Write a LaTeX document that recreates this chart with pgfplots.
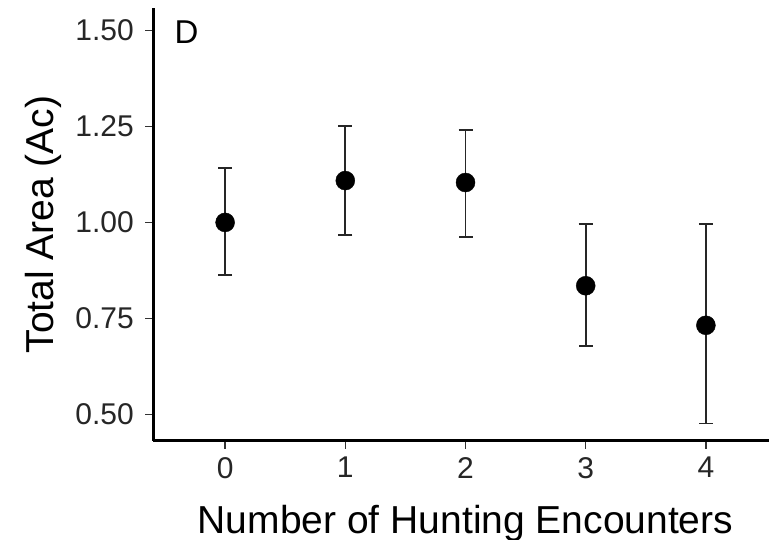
\documentclass[border=0pt]{standalone}
\usepackage{fontspec}
\setmainfont{Liberation Sans}
\usepackage{pgfplots}
\usepackage{pgfplotstable}
\pgfplotsset{compat=1.18}

% mean total area and 95% interval per number of hunting encounters
\pgfplotstableread{
x  y      lo     hi
0  1.000  0.864  1.142
1  1.109  0.967  1.252
2  1.104  0.962  1.240
3  0.835  0.678  0.995
4  0.732  0.476  0.995
}\areadata

\begin{document}
\begin{tikzpicture}[x=1bp,y=1bp]
\useasboundingbox (0,0) rectangle (769,540);
\begin{axis}[
  at={(153bp,99bp)}, anchor=south west,
  scale only axis, width=625bp, height=433bp,
  xmin=-0.6, xmax=4.6, ymin=0.4305, ymax=1.5587,
  axis x line*=bottom, axis y line*=left,
  every outer x axis line/.append style={line width=3bp, black, -},
  every outer y axis line/.append style={line width=3bp, black, -},
  xtick={0,1,2,3,4}, xticklabels={0,1,2,3,4},
  ytick={0.5,0.75,1,1.25,1.5},
  yticklabels={0.50,0.75,1.00,1.25,1.50},
  tick align=outside, major tick length=8bp,
  tick style={line width=1.5bp, color=black!80},
  ticklabel style={font=\fontsize{30bp}{32bp}\selectfont, text=black!85},
  yticklabel style={anchor=east, inner sep=0pt, xshift=-11bp},
  xticklabel style={anchor=north, inner sep=0pt, yshift=-8bp},
  xlabel={Number of Hunting Encounters},
  ylabel={Total Area (Ac)},
  label style={font=\fontsize{39bp}{41bp}\selectfont},
  xlabel style={at={(axis description cs:0.5,-0.2125)}, anchor=base, inner sep=0pt},
  ylabel style={at={(axis description cs:-0.176,0.5)}, anchor=center, inner sep=0pt},
  clip=false,
]
\addplot[
  only marks, mark=*, mark size=9.5bp, black,
  error bars/.cd, y dir=both, y explicit,
  error bar style={line width=1.8bp, color=black!85},
  error mark options={rotate=90, mark size=7bp, line width=1.8bp, color=black!85},
] table[x=x, y=y, y error plus expr=\thisrow{hi}-\thisrow{y}, y error minus expr=\thisrow{y}-\thisrow{lo}] {\areadata};
\node[font=\fontsize{33bp}{35bp}\selectfont, anchor=center] at (axis cs:-0.32,1.495) {D};
\end{axis}
\end{tikzpicture}
\end{document}
